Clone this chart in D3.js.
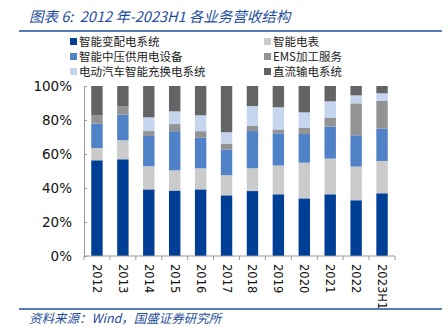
<!DOCTYPE html>
<html>
<head>
<meta charset="utf-8">
<script src="https://cdn.jsdelivr.net/npm/d3@7/dist/d3.min.js"></script>
<style>
  body { margin: 0; background: #fff; }
  svg { display: block; font-family: "Liberation Sans", Arial, sans-serif; }
</style>
</head>
<body>
<svg id="chart" width="448" height="327"></svg>
<script>
// years and revenue share (%) of each business line
var years = ["2012","2013","2014","2015","2016","2017","2018","2019","2020","2021","2022","2023H1"];
var seriesNames = ["智能变配电系统","智能电表","智能中压供用电设备","EMS加工服务","电动汽车智能充换电系统","直流输电系统"];
var seriesColors = ["#003f96","#cbcbcb","#4f82c6","#939393","#c5d5ee","#646464"];

var distribution = [56.3, 56.9, 39.2, 38.5, 39.2, 35.7, 38.2, 36.3, 33.9, 36.3, 32.8, 36.9];
var meter        = [ 7.2, 11.2, 13.6, 11.9, 12.4, 11.8, 13.4, 16.9, 21.0, 21.0, 19.8, 19.0];
var mediumVolt   = [14.4, 15.1, 17.8, 23.0, 18.0, 15.1, 21.9, 19.0, 16.9, 18.8, 18.4, 19.0];
var ems          = [ 4.9,  5.0,  2.9,  4.2,  3.8,  3.5,  3.0,  2.2,  3.7,  5.3, 18.8, 16.3];
var charging     = [ 0.0,  0.0,  8.1,  7.5,  9.4,  6.7, 11.7, 13.1,  9.0,  9.6,  4.7,  4.5];
var dcTrans      = [17.2, 11.8, 18.4, 14.9, 17.2, 27.2, 11.8, 12.5, 15.5,  9.0,  5.5,  4.3];

var yTicks = [0, 20, 40, 60, 80, 100];

var allSeries = [distribution, meter, mediumVolt, ems, charging, dcTrans];
var rows = years.map(function(y, i) {
  var r = {year: y};
  seriesNames.forEach(function(n, k) { r[n] = allSeries[k][i]; });
  return r;
});

var svg = d3.select("#chart");

// title
svg.append("text")
    .attr("x", 29).attr("y", 22)
    .attr("font-family", "'Noto Sans CJK SC', sans-serif")
    .attr("font-style", "italic")
    .attr("font-size", 14.5)
    .attr("fill", "#1f4f9c")
    .style("white-space", "pre")
    .text("图表 6:  2012 年-2023H1 各业务营收结构");

svg.append("line")
    .attr("x1", 19).attr("x2", 442).attr("y1", 31).attr("y2", 31)
    .attr("stroke", "#1f4f9c").attr("stroke-width", 1.5);

// legend
var legend = svg.append("g");
seriesNames.forEach(function(n, k) {
  var col = k % 2, row = Math.floor(k / 2);
  var gx = col === 0 ? 70 : 264, gy = 41.5 + row * 15;
  legend.append("rect")
      .attr("x", gx).attr("y", gy - 3.5).attr("width", 7).attr("height", 7)
      .attr("fill", seriesColors[k]);
  legend.append("text")
      .attr("x", gx + 9).attr("y", gy + 4.5)
      .attr("font-family", "'Noto Sans CJK SC', sans-serif")
      .attr("font-size", 11.5)
      .attr("fill", "#222")
      .text(n);
});

var margin = {left: 84, right: 53, top: 86, bottom: 71};
var width = 448 - margin.left - margin.right;
var height = 327 - margin.top - margin.bottom;

var x = d3.scaleBand().domain(years).range([0, width]).paddingInner(0.56).paddingOuter(0.28);
var y = d3.scaleLinear().domain([0, 100]).range([height, 0]);

var g = svg.append("g").attr("transform", "translate(" + margin.left + "," + margin.top + ")");

var stack = d3.stack().keys(seriesNames);
var layers = stack(rows);

g.selectAll("g.layer")
    .data(layers)
  .enter().append("g")
    .attr("class", "layer")
    .attr("fill", function(d, i) { return seriesColors[i]; })
  .selectAll("rect")
    .data(function(d) { return d; })
  .enter().append("rect")
    .attr("x", function(d) { return x(d.data.year); })
    .attr("width", x.bandwidth())
    .attr("y", function(d) { return y(d[1]); })
    .attr("height", function(d) { return Math.max(0, y(d[0]) - y(d[1])); });

// y axis
var yAxis = g.append("g")
    .call(d3.axisLeft(y).tickValues(yTicks).tickSize(-3).tickPadding(12)
      .tickFormat(function(d) { return d + "%"; }));
yAxis.selectAll("text").attr("font-size", 13.5).attr("fill", "#111")
    .attr("font-family", "'DejaVu Sans', sans-serif");
yAxis.select(".domain").attr("stroke", "#999");
yAxis.selectAll(".tick line").attr("stroke", "#999");

// x axis with ticks at category boundaries
var xAxisG = g.append("g").attr("transform", "translate(0," + height + ")");
xAxisG.append("line").attr("x1", 0).attr("x2", width).attr("stroke", "#999");
var bounds = d3.range(years.length + 1).map(function(i) { return i * width / years.length; });
xAxisG.selectAll("line.tk").data(bounds).enter().append("line")
    .attr("class", "tk")
    .attr("x1", function(d) { return d; }).attr("x2", function(d) { return d; })
    .attr("y1", 0).attr("y2", 4).attr("stroke", "#999");
xAxisG.selectAll("text").data(years).enter().append("text")
    .attr("transform", function(d) {
      return "translate(" + (x(d) + x.bandwidth() / 2 - 4) + ",8) rotate(90)";
    })
    .attr("font-family", "'DejaVu Sans', sans-serif")
    .attr("font-size", 11.5)
    .attr("fill", "#111")
    .text(function(d) { return d; });

// source
svg.append("line")
    .attr("x1", 19).attr("x2", 442).attr("y1", 309).attr("y2", 309)
    .attr("stroke", "#1f4f9c").attr("stroke-width", 1.5);
svg.append("text")
    .attr("x", 29).attr("y", 323)
    .attr("font-family", "'Noto Sans CJK SC', sans-serif")
    .attr("font-style", "italic")
    .attr("font-size", 12.5)
    .attr("fill", "#1f4f9c")
    .text("资料来源：Wind，国盛证券研究所");
</script>
</body>
</html>
